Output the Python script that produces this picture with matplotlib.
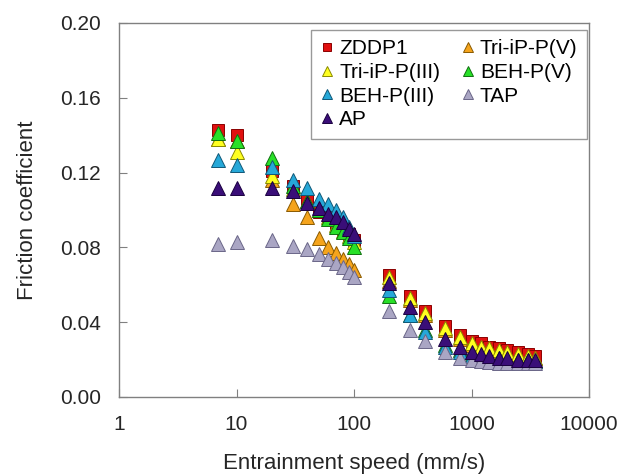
import matplotlib
matplotlib.use("Agg")
import matplotlib.pyplot as plt

plt.rcParams['font.family'] = ['Liberation Sans', 'DejaVu Sans']

speeds = [7, 10, 20, 30, 40, 50, 60, 70, 80, 90, 100, 200, 300, 400, 600, 800,
          1000, 1200, 1400, 1700, 2000, 2500, 3000, 3500]

zddp1 = [0.143, 0.140, 0.121, 0.113, 0.105, 0.099, 0.096, 0.093, 0.090, 0.087, 0.084,
         0.065, 0.054, 0.046, 0.038, 0.033, 0.030, 0.029, 0.027, 0.026, 0.025, 0.024, 0.023, 0.022]
tri_ip_p_v = [0.138, 0.137, 0.116, 0.103, 0.096, 0.085, 0.080, 0.077, 0.074, 0.071, 0.068,
              0.062, 0.052, 0.044, 0.036, 0.031, 0.028, 0.026, 0.025, 0.024, 0.023, 0.022, 0.021, 0.021]
tri_ip_p_iii = [0.138, 0.131, 0.118, 0.111, 0.105, 0.100, 0.096, 0.092, 0.089, 0.086, 0.083,
                0.064, 0.053, 0.045, 0.037, 0.032, 0.029, 0.027, 0.026, 0.025, 0.024, 0.023, 0.022, 0.021]
beh_p_v = [0.141, 0.137, 0.128, 0.113, 0.105, 0.100, 0.095, 0.091, 0.088, 0.085, 0.080,
           0.054, 0.044, 0.036, 0.028, 0.025, 0.023, 0.022, 0.021, 0.021, 0.020, 0.020, 0.020, 0.019]
beh_p_iii = [0.127, 0.124, 0.123, 0.116, 0.112, 0.106, 0.103, 0.100, 0.096, 0.091, 0.086,
             0.057, 0.044, 0.035, 0.027, 0.024, 0.022, 0.021, 0.020, 0.020, 0.020, 0.019, 0.019, 0.019]
tap = [0.082, 0.083, 0.084, 0.081, 0.079, 0.0765, 0.074, 0.0716, 0.0695, 0.067, 0.064,
       0.046, 0.036, 0.030, 0.024, 0.021, 0.020, 0.019, 0.0185, 0.018, 0.018, 0.018, 0.018, 0.018]
ap = [0.112, 0.112, 0.112, 0.110, 0.104, 0.101, 0.098, 0.096, 0.0935, 0.090, 0.087,
      0.061, 0.048, 0.040, 0.031, 0.027, 0.024, 0.023, 0.022, 0.021, 0.021, 0.020, 0.020, 0.020]

x_ticks = [1, 10, 100, 1000, 10000]
x_ticklabels = ['1', '10', '100', '1000', '10000']
y_ticks = [0.00, 0.04, 0.08, 0.12, 0.16, 0.20]

series = [
    ('ZDDP1', zddp1, 's', '#e01010', '#8a0000', 8),
    ('Tri-iP-P(V)', tri_ip_p_v, '^', '#f5a41c', '#8a5a00', 9.5),
    ('Tri-iP-P(III)', tri_ip_p_iii, '^', '#ffff20', '#8a8a00', 9.5),
    ('BEH-P(V)', beh_p_v, '^', '#28e028', '#107010', 9.5),
    ('BEH-P(III)', beh_p_iii, '^', '#26a8d8', '#105878', 9.5),
    ('TAP', tap, '^', '#aaa6c4', '#6a6688', 9.5),
    ('AP', ap, '^', '#3a0e78', '#1a0040', 9.5),
]

fig = plt.figure(figsize=(6.28, 4.76), dpi=100)
ax = fig.add_axes([119/628, (476-397)/476, 470/628, 374/476])

handles = {}
for name, vals, mk, fc, ec, ms in series:
    h, = ax.plot(speeds, vals, linestyle='none', marker=mk, markersize=ms,
                 markerfacecolor=fc, markeredgecolor=ec, markeredgewidth=0.7, label=name)
    handles[name] = h

ax.set_xscale('log')
ax.set_xlim(1, 10000)
ax.set_ylim(0, 0.20)
ax.set_xticks(x_ticks)
ax.set_xticklabels(x_ticklabels)
ax.xaxis.set_minor_locator(matplotlib.ticker.NullLocator())
ax.set_yticks(y_ticks)
ax.set_yticklabels([f'{v:.2f}' for v in y_ticks])
ax.tick_params(axis='both', direction='in', length=6, width=0.8, color='#808080',
               labelsize=15, labelcolor='#262626')
ax.tick_params(axis='y', pad=13)
ax.tick_params(axis='x', pad=13)
for sp in ax.spines.values():
    sp.set_color('#808080')
    sp.set_linewidth(1.0)

ax.set_xlabel('Entrainment speed (mm/s)', fontsize=16, color='#262626', labelpad=14)
ax.set_ylabel('Friction coefficient', fontsize=16, color='#262626', labelpad=16)

order = ['ZDDP1', 'Tri-iP-P(III)', 'BEH-P(III)', 'AP', 'Tri-iP-P(V)', 'BEH-P(V)', 'TAP']
hs = [handles[n] for n in order]
leg = ax.legend(hs, order, ncol=2, loc='upper right', fontsize=15,
                bbox_to_anchor=(587/628, 1 - 30/476), bbox_transform=fig.transFigure,
                borderaxespad=0,
                frameon=True, fancybox=False, edgecolor='#808080',
                handlelength=0.6, handletextpad=0.3, columnspacing=1.0,
                labelspacing=0.22, borderpad=0.45, markerscale=0.8)
leg.get_frame().set_linewidth(1.0)

fig.savefig('out.png', dpi=100)
